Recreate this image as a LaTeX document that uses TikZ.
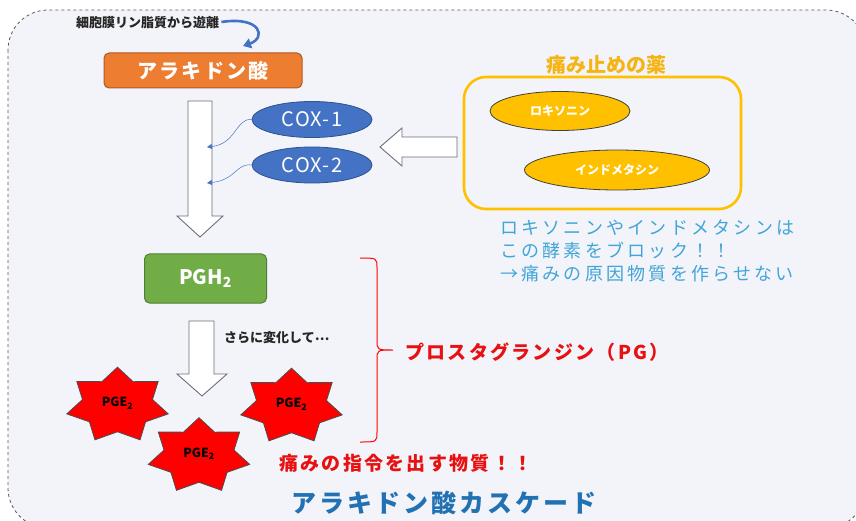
\documentclass[tikz,border=0pt]{standalone}
\usepackage{fontspec}
\setmainfont{Noto Sans CJK JP}
\newfontfamily\jpsp{Noto Sans CJK JP}[LetterSpace=18]
\newfontfamily\jpspb{Noto Sans CJK JP}[LetterSpace=12]
\newfontfamily\jpcox{Noto Sans CJK JP}[LetterSpace=6]
\usetikzlibrary{arrows.meta,shapes.geometric}
\definecolor{bgc}{RGB}{242,244,250}
\definecolor{framec}{RGB}{90,90,90}
\definecolor{orangef}{RGB}{237,125,49}
\definecolor{oranged}{RGB}{174,90,33}
\definecolor{greenf}{RGB}{112,173,71}
\definecolor{greend}{RGB}{80,126,50}
\definecolor{bluef}{RGB}{68,114,196}
\definecolor{blued}{RGB}{47,82,143}
\definecolor{goldf}{RGB}{255,192,0}
\definecolor{goldt}{RGB}{245,180,20}
\definecolor{skyt}{RGB}{66,165,216}
\definecolor{redt}{RGB}{232,16,16}
\definecolor{titleb}{RGB}{34,113,179}
\definecolor{arrowd}{RGB}{110,110,120}
\tikzset{
  x=1pt, y=-1pt,
  boxsty/.style={rounded corners=5, line width=1, minimum width=198, minimum height=35, inner sep=0, text=white, font=\fontsize{20}{24}\selectfont\bfseries},
  coxsty/.style={ellipse, draw=blued, fill=bluef, line width=0.8, minimum width=120, minimum height=36, inner sep=0, text=white, font=\jpcox\fontsize{20}{24}\selectfont},
  drugsty/.style={ellipse, draw=black!75, fill=goldf, line width=0.8, inner sep=0, text=white, font=\fontsize{12}{14}\selectfont\bfseries},
  blockarrow/.style={draw=arrowd, fill=white, line width=0.9, line join=miter},
  coxlink/.style={draw=bluef, line width=0.5, -{Triangle[length=5,width=5]}},
  starsty/.style={draw=black!70, fill=red, line width=0.8, line join=miter},
  pgetext/.style={inner sep=0, font=\fontsize{12.5}{14}\selectfont\bfseries},
  smalltext/.style={inner sep=0, font=\fontsize{13}{15}\selectfont\bfseries, text=black!85},
}
% name, cx, cy (centre of the 7-point star's bounding circle)
\newcommand\pgestar[3]{%
  \path[starsty] plot[samples at={0,1,...,13}, variable=\k] ({#2+52*(1-0.31*mod(\k,2))*cos(-90+25.7143*\k)}, {#3+38.2*(1-0.31*mod(\k,2))*sin(-90+25.7143*\k)}) -- cycle;
  \node[pgetext] (#1) at (#2,#3-2) {PGE\textsubscript{2}};}
\begin{document}
\begin{tikzpicture}
\clip (0,0) rectangle (856,521);
\fill[white] (0,0) rectangle (856,521);
\draw[fill=bgc, draw=framec, dashed, line width=0.8, rounded corners=40] (8,10) rectangle (866,528);

% top text and curved arrow
\node[smalltext, anchor=west] (free) at (76,23) {細胞膜リン脂質から遊離};
\node[boxsty, fill=orangef, draw=oranged] (aa) at (203,70.5) {\jpspb アラキドン酸};
\draw[bluef, line width=2.6, -{Triangle[length=8,width=10]}] (free.east) ++(2,-1) .. controls (262,16) and (266,38) .. (243,46);

% big down arrow 1
\path[blockarrow] (188,101) -- (212,101) -- (212,216) -- (223,216) -- (200,237) -- (177,216) -- (188,216) -- cycle;
\coordinate (h1) at (207,147);
\coordinate (h2) at (207,183);

% COX ellipses
\node[coxsty] (cox1) at (312,119.5) {COX-1};
\node[coxsty] (cox2) at (312,165) {COX-2};
\draw[coxlink] (cox1.west) .. controls (236,118) and (236,144) .. (h1);
\draw[coxlink] (cox2.west) .. controls (236,163) and (236,180) .. (h2);

% left arrow
\path[blockarrow] (457,137) -- (402,137) -- (402,128) -- (380,147) -- (402,166) -- (402,157) -- (457,157) -- cycle;

% drugs
\node[inner sep=0, text=goldt, font=\fontsize{20}{24}\selectfont\bfseries] (drugtitle) at (606,65) {痛み止めの薬};
\draw[goldf, line width=2.6, rounded corners=22] (464,77) rectangle (741,209);
\node[drugsty, minimum width=140, minimum height=39] (loxo) at (560,111) {ロキソニン};
\node[drugsty, minimum width=185, minimum height=40] (indo) at (617,170) {インドメタシン};
\node[inner sep=0, anchor=west, align=left, text=skyt, font=\jpsp\fontsize{18}{23}\selectfont] (note) at (500,251) {ロキソニンやインドメタシンは\\この酵素をブロック！！\\→痛みの原因物質を作らせない};

% PGH2
\node[boxsty, fill=greenf, draw=greend, minimum width=122, minimum height=49] (pgh) at (205.5,278.5) {PGH\textsubscript{2}};
\path[blockarrow] (189,321) -- (214,321) -- (214,374) -- (227,374) -- (202,396) -- (177,374) -- (189,374) -- cycle;
\node[smalltext, anchor=west] (change) at (224,338) {さらに変化して\raisebox{0.35ex}{…}};

% stars
\pgestar{s1}{117.5}{405.4}
\pgestar{s3}{291.5}{406.4}
\pgestar{s2}{199}{455.9}

% brace
\draw[red, line width=1] (360,258) .. controls (377,258) .. (377,268) -- (377,340) .. controls (377,350) .. (393,350) .. controls (377,350) .. (377,360) -- (377,432) .. controls (377,442) .. (360,442);
\coordinate (tip) at (393,350);
\node[inner sep=0, anchor=west, text=redt, font=\jpspb\fontsize{19}{22}\selectfont\bfseries] (pg) at (405,352) {プロスタグランジン（PG）};
\node[inner sep=0, anchor=west, text=redt, font=\jpspb\fontsize{19}{22}\selectfont\bfseries] (pain) at (279,463) {痛みの指令を出す物質！！};

% title
\node[inner sep=0, text=titleb, font=\jpspb\fontsize{25}{30}\selectfont\bfseries] (title) at (444,503) {アラキドン酸カスケード};
\end{tikzpicture}
\end{document}
